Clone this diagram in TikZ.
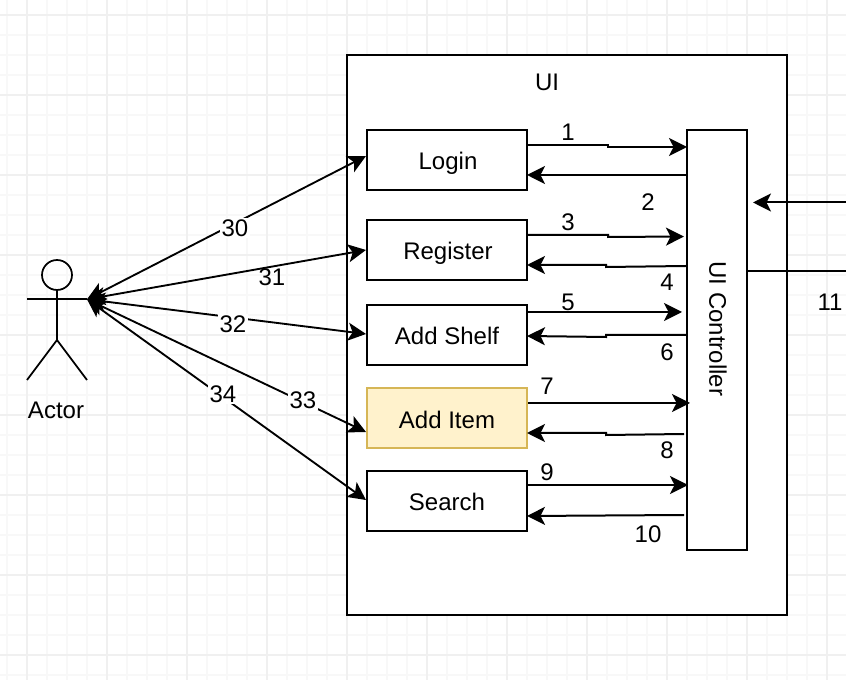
\documentclass[tikz,border=0pt]{standalone}
\usepackage{fontspec}
\setmainfont{Liberation Sans}
\usetikzlibrary{arrows.meta,calc}
\definecolor{gridmajor}{HTML}{F0F0F0}
\definecolor{gridminor}{HTML}{F8F8F8}
\definecolor{itemfill}{HTML}{FFF2CC}
\definecolor{itemline}{HTML}{D6B656}
\tikzset{
  x=0.75pt,y=-0.75pt,
  box/.style={draw=black,line width=1.5pt,fill=white,minimum width=120pt,minimum height=45pt,inner sep=0pt,font=\fontsize{18}{21}\selectfont},
  txt/.style={inner sep=0pt,font=\fontsize{18}{21}\selectfont},
  lab/.style={fill=white,inner sep=1pt,font=\fontsize{18}{21}\selectfont},
  flow/.style={draw=black,line width=1.5pt,-{Stealth[length=13.5pt,width=13.5pt,inset=3.4pt]}},
  both/.style={draw=black,line width=1.4pt,{Stealth[length=13.5pt,width=13.5pt,inset=3.4pt]}-{Stealth[length=13.5pt,width=13.5pt,inset=3.4pt]}},
  plain/.style={draw=black,line width=1.5pt},
}
\begin{document}
\begin{tikzpicture}
\useasboundingbox (0,0) rectangle (846,680);
\fill[white] (0,0) rectangle (846,680);
% grid
\foreach \g in {7,27,...,847}{\draw[gridminor,line width=1.1pt] (\g,0) -- (\g,680);}
\foreach \g in {15,35,...,675}{\draw[gridminor,line width=1.1pt] (0,\g) -- (846,\g);}
\foreach \g in {27,107,...,827}{\draw[gridmajor,line width=1.1pt] (\g,0) -- (\g,680);}
\foreach \g in {15,95,...,655}{\draw[gridmajor,line width=1.1pt] (0,\g) -- (846,\g);}
% containers
\node[box,minimum width=330pt,minimum height=420pt] (ui) at (567,335) {};
\node[txt] (uilabel) at (547,82) {UI};
\node[box] (login) at (447,160) {};
\node[txt] (loginlabel) at (448,163.5) {Login};
\node[box] (register) at (447,250) {};
\node[txt] (registerlabel) at (448,253.5) {Register};
\node[box] (shelf) at (447,335) {};
\node[txt] (shelflabel) at (447,336) {Add Shelf};
\node[box,fill=itemfill,draw=itemline] (item) at (447,418) {};
\node[txt] (itemlabel) at (447,420) {Add Item};
\node[box] (search) at (447,501) {};
\node[txt] (searchlabel) at (447,502) {Search};
\node[box,minimum width=45pt,minimum height=315pt] (ctrl) at (717,340) {};
\node[txt,rotate=-90] (ctrllabel) at (718,329) {UI Controller};
% actor
\node[draw=black,line width=1.3pt,circle,minimum size=22.5pt,inner sep=0pt] (head) at (57,275) {};
\coordinate (hand) at (87,299.3);
\coordinate (lefthand) at (27,299.3);
\coordinate (hip) at (57,340);
\draw[plain,line width=1.3pt] (lefthand) -- (hand);
\draw[plain,line width=1.3pt] (head.south) -- (hip);
\draw[plain,line width=1.3pt] (27,380) -- (hip) -- (87,380);
\node[txt] (actor) at (56,410) {Actor};
% actor links
\path[both] (hand) -- ($(login.west)+(0,-4)$);
\path[both] (hand) -- (register.west);
\path[both] (hand) -- ($(shelf.west)+(0,-1)$);
\path[both] (hand) -- ($(item.west)+(0,14)$);
\path[both] (hand) -- ($(search.west)+(0,-1)$);
% flows to the controller
\path[flow] ($(login.east)+(0,-15)$) -- ++(80,0) -- ++(0,2) -- ($(ctrl.west|-login.east)+(1,-13)$);
\path[flow] ($(ctrl.west|-login.east)+(0,15)$) -- ($(login.east)+(-1,15)$);
\path[flow] ($(register.east)+(0,-15)$) -- ++(80,0) -- ++(0,2) -- ($(ctrl.west|-register.east)+(-2,-13.5)$);
\path[flow] ($(ctrl.west|-register.east)+(0,16)$) -- ++(-80,1) -- ++(0,-2) -- ($(register.east)+(-1,15)$);
\path[flow] ($(shelf.east)+(0,-23)$) -- ($(ctrl.west|-shelf.east)+(-4,-23)$);
\path[flow] ($(ctrl.west|-shelf.east)+(0,0)$) -- ++(-80,0) -- ++(0,2) -- ($(shelf.east)+(-1,1)$);
\path[flow] ($(item.east)+(0,-15)$) -- ($(ctrl.west|-item.east)+(4,-15)$);
\path[flow] ($(ctrl.west|-item.east)+(-2,16)$) -- ++(-78,1) -- ++(0,-2) -- ($(item.east)+(-1,15)$);
\path[flow] ($(search.east)+(0,-16)$) -- ($(ctrl.west|-search.east)+(2,-16)$);
\path[flow] ($(ctrl.west|-search.east)+(-2,14)$) -- ($(search.east)+(-1,15)$);
% off-page links
\coordinate (inR) at (846,202.5);
\coordinate (outR) at (846,271);
\path[flow] (inR) -- ($(ctrl.east|-inR)+(5,0)$);
\draw[plain] (ctrl.east|-outR) -- (outR);
% labels
\node[lab] (l30) at (235,228) {30};
\node[txt] (l31) at (272,277) {31};
\node[lab] (l32) at (233,324) {32};
\node[lab] (l33) at (303,400) {33};
\node[lab] (l34) at (223,394) {34};
\node[txt] (l1) at (568,132) {1};
\node[txt] (l2) at (648,202) {2};
\node[txt] (l3) at (568,222) {3};
\node[txt] (l4) at (667,282) {4};
\node[txt] (l5) at (568,302) {5};
\node[txt] (l6) at (667,352) {6};
\node[txt] (l7) at (547,386) {7};
\node[txt] (l8) at (667,450) {8};
\node[txt] (l9) at (547,472) {9};
\node[txt] (l10) at (648,534) {10};
\node[txt] (l11) at (830,302) {11};
\end{tikzpicture}
\end{document}
